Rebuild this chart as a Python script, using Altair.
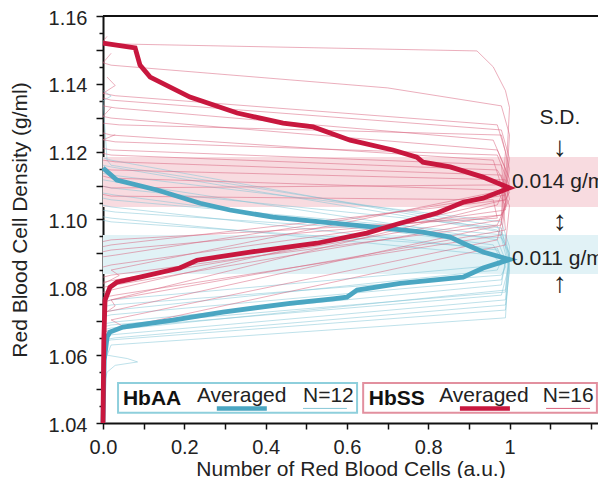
import altair as alt
import pandas as pd

X_MAX = 1.2177
FONT = "Liberation Sans"

# Averaged profiles (x = normalised cell count, y = density)
hbss_x = [0, 0.079, 0.091, 0.116, 0.214, 0.330, 0.443, 0.517, 0.608, 0.713, 0.772, 0.787, 0.854, 0.935, 1.0,
          0.935, 0.886, 0.822, 0.731, 0.649, 0.526, 0.362, 0.231, 0.189, 0.091, 0.034, 0.017, 0.005, 0.002, 0.0]
hbss_y = [1.1520, 1.1506, 1.1455, 1.1420, 1.1361, 1.1314, 1.1284, 1.1273, 1.1234, 1.1205, 1.1184, 1.1169, 1.1155, 1.1125, 1.1093,
          1.1063, 1.1051, 1.1019, 1.0989, 1.0960, 1.0930, 1.0904, 1.0880, 1.0857, 1.0830, 1.0815, 1.0800, 1.0762, 1.0644, 1.0400]
hbaa_x = [0, 0.034, 0.133, 0.239, 0.312, 0.418, 0.541, 0.689, 0.787, 0.854, 0.886, 0.935, 1.0,
          0.935, 0.886, 0.731, 0.625, 0.600, 0.566, 0.460, 0.295, 0.172, 0.049, 0.017, 0.010, 0.003, 0.0]
hbaa_y = [1.1152, 1.1116, 1.1087, 1.1048, 1.1028, 1.1007, 1.0992, 1.0975, 1.0963, 1.0948, 1.0930, 1.0904, 1.0882,
          1.0857, 1.0830, 1.0812, 1.0792, 1.0771, 1.0766, 1.0753, 1.0727, 1.0703, 1.0683, 1.0668, 1.0653, 1.0585, 1.0400]

# Individual samples, HbSS (N=16)
red_thin = [
    [[0.01, 1.1540], [0, 1.1525], [0.02, 1.1518], [0.92, 1.1497], [0.96, 1.1450], [0.99, 1.1380], [1.0, 1.1330], [0.99, 1.1100], [0.97, 1.1043], [0.02, 1.0763], [0, 1.0755]],
    [[0.02, 1.1490], [0, 1.1462], [0.02, 1.1455], [0.70, 1.1388], [0.98, 1.1335], [1.0, 1.1250], [0.99, 1.1058], [0.02, 1.0792], [0, 1.0785]],
    [[0.01, 1.1420], [0.03, 1.1395], [0, 1.1372], [0.03, 1.1365], [0.97, 1.1279], [0.99, 1.1200], [0.98, 1.1013], [0.03, 1.0822], [0, 1.0815]],
    [[0, 1.1358], [0.02, 1.1352], [0.98, 1.1264], [1.0, 1.1180], [0.99, 1.1087], [0.02, 1.0851], [0.04, 1.0835], [0, 1.0810]],
    [[0, 1.1335], [0.03, 1.1329], [0.96, 1.1234], [0.99, 1.1150], [0.98, 1.0984], [0.03, 1.0733], [0, 1.0726]],
    [[0.02, 1.1330], [0, 1.1304], [0.02, 1.1299], [0.97, 1.1205], [1.0, 1.1120], [0.99, 1.1028], [0.02, 1.0866], [0, 1.0860]],
    [[0, 1.1284], [0.04, 1.1279], [0.98, 1.1249], [1.0, 1.1150], [0.99, 1.1072], [0.03, 1.0895], [0, 1.0890]],
    [[0, 1.1255], [0.02, 1.1249], [0.96, 1.1175], [0.98, 1.1100], [0.99, 1.0969], [0.02, 1.0763], [0.03, 1.0745], [0, 1.0720]],
    [[0.03, 1.1250], [0, 1.1235], [0.03, 1.1229], [0.97, 1.1190], [1.0, 1.1100], [0.98, 1.0999], [0.03, 1.0807], [0, 1.0800]],
    [[0, 1.1210], [0.02, 1.1205], [0.98, 1.1161], [0.99, 1.1050], [0.97, 1.0940], [0.02, 1.0704], [0.05, 1.0685], [0.01, 1.0660], [0, 1.0640]],
    [[0, 1.1195], [0.02, 1.1190], [0.97, 1.1146], [1.0, 1.1080], [0.99, 1.1058], [0.02, 1.0925], [0, 1.0920]],
    [[0, 1.1175], [0.03, 1.1170], [0.98, 1.1131], [0.99, 1.1050], [0.98, 1.0954], [0.03, 1.0777], [0, 1.0770]],
    [[0, 1.1150], [0.02, 1.1146], [0.99, 1.1117], [1.0, 1.1060], [0.98, 1.1013], [0.02, 1.0910], [0, 1.0905]],
    [[0, 1.1128], [0.02, 1.1122], [0.97, 1.1087], [0.99, 1.1040], [0.97, 1.0984], [0.02, 1.0836], [0, 1.0830]],
    [[0, 1.1098], [0.02, 1.1093], [0.98, 1.1102], [1.0, 1.1040], [0.99, 1.0925], [0.02, 1.0674], [0, 1.0668]],
    [[0, 1.1074], [0.02, 1.1069], [0.96, 1.1058], [0.97, 1.1004], [0.02, 1.0940], [0, 1.0935]],
]

# Individual samples, HbAA (N=12)
blue_thin = [
    [[0, 1.1182], [0.02, 1.1175], [0.97, 1.0969], [1.0, 1.0900], [0.99, 1.0763], [0.02, 1.0660], [0, 1.0655]],
    [[0, 1.1136], [0.02, 1.1131], [0.98, 1.0993], [1.0, 1.0920], [0.99, 1.0792], [0.02, 1.0674], [0, 1.0668]],
    [[0, 1.1117], [0.03, 1.1111], [0.97, 1.0940], [0.99, 1.0880], [0.98, 1.0807], [0.03, 1.0698], [0, 1.0692]],
    [[0, 1.1098], [0.02, 1.1093], [0.98, 1.0975], [1.0, 1.0860], [0.99, 1.0733], [0.02, 1.0645], [0, 1.0640]],
    [[0, 1.1078], [0.03, 1.1072], [0.96, 1.0925], [0.98, 1.0880], [0.97, 1.0851], [0.03, 1.0733], [0, 1.0727]],
    [[0, 1.1063], [0.02, 1.1058], [0.99, 1.0954], [1.0, 1.0870], [0.98, 1.0777], [0.02, 1.0680], [0, 1.0675]],
    [[0, 1.1042], [0.02, 1.1037], [0.97, 1.0910], [0.99, 1.0870], [0.98, 1.0822], [0.02, 1.0719], [0, 1.0713]],
    [[0, 1.1027], [0.03, 1.1022], [0.98, 1.0946], [1.0, 1.0850], [0.99, 1.0748], [0.03, 1.0651], [0, 1.0645]],
    [[0, 1.1008], [0.02, 1.1004], [0.96, 1.0895], [0.98, 1.0866], [0.02, 1.0763], [0, 1.0757]],
    [[0, 1.1380], [0.02, 1.1364], [0, 1.1350], [0.01, 1.1175], [0.02, 1.1160], [0.97, 1.0981], [1.0, 1.0890], [0.99, 1.0786], [0.02, 1.0689], [0, 1.0683]],
    [[0, 1.0998], [0.02, 1.0993], [0.97, 1.0916], [0.99, 1.0860], [0.98, 1.0836], [0.02, 1.0748], [0, 1.0742]],
    [[0, 1.1160], [0.02, 1.1155], [0.98, 1.0963], [1.0, 1.0900], [0.99, 1.0710], [0.02, 1.0630], [0.01, 1.0600], [0.06, 1.0590], [0.085, 1.0580], [0.03, 1.0570], [0.01, 1.0550], [0, 1.0500]],
]

# S.D. bands (density ranges)
band_group = ["HbSS", "HbAA"]
band_low = [1.1037, 1.0839]
band_high = [1.1184, 1.0954]
band_fill = ["#f8dbe0", "#e1f2f6"]

# Annotation texts on the right
sd_text = ["S.D."]
sd_y = [1.1299]
arrow_text = ["↓", "↕", "↑"]
arrow_y = [1.1212, 1.0993, 1.0811]
val_text = ["0.014 g/ml", "0.011 g/ml"]
val_y = [1.1111, 1.0884]

# Legend boxes
box_x = [0.037, 0.640]
box_x2 = [0.625, 1.215]
box_stroke = ["#8ecfdc", "#e2909f"]
leg_bold = ["HbAA", "HbSS"]
leg_bold_x = [0.049, 0.654]
leg_text = ["Averaged", "N=12", "Averaged", "N=16"]
leg_text_x = [0.231, 0.492, 0.827, 1.082]
leg_line_x = [0.280, 0.492, 0.878, 1.090]
leg_line_x2 = [0.403, 0.600, 1.001, 1.198]
leg_line_w = [4.5, 1.0, 4.5, 1.0]
leg_line_c = ["#4aa6c2", "#86c6d6", "#c8173e", "#d9607a"]

RED_THICK = "#c8173e"
BLUE_THICK = "#4aa6c2"
RED_THIN = "#d9627d"
BLUE_THIN = "#82c6d7"

# --- build tables ---
thin_rows = []
for grp, curves in (("HbAA", blue_thin), ("HbSS", red_thin)):
    for ci, pts in enumerate(curves):
        for k, (xv, yv) in enumerate(pts):
            thin_rows.append({"group": grp, "cid": f"{grp}{ci}", "k": k, "x": xv, "y": yv})
thin_df = pd.DataFrame(thin_rows)

avg_rows = []
for grp, xs, ys in (("HbAA", hbaa_x, hbaa_y), ("HbSS", hbss_x, hbss_y)):
    for k, (xv, yv) in enumerate(zip(xs, ys)):
        avg_rows.append({"group": grp, "k": k, "x": xv, "y": yv})
avg_df = pd.DataFrame(avg_rows)

band_df = pd.DataFrame({"group": band_group, "lo": band_low, "hi": band_high, "fill": band_fill,
                        "x0": [0.0, 0.0], "x1": [X_MAX, X_MAX]})
top_df = pd.DataFrame({"x0": [0.0], "x1": [X_MAX], "y": [1.16]})
sd_df = pd.DataFrame({"t": sd_text, "y": sd_y, "x": [1.124] * len(sd_text)})
arrow_df = pd.DataFrame({"t": arrow_text, "y": arrow_y, "x": [1.124] * len(arrow_text)})
val_df = pd.DataFrame({"t": val_text, "y": val_y, "x": [1.006] * len(val_text)})
box_df = pd.DataFrame({"x": box_x, "x2": box_x2, "y": [1.0518] * 2, "y2": [1.0430] * 2, "s": box_stroke})
bold_df = pd.DataFrame({"t": leg_bold, "x": leg_bold_x, "y": [1.0453] * 2})
text_df = pd.DataFrame({"t": leg_text, "x": leg_text_x, "y": [1.0463] * 4})
lline_df = pd.DataFrame({"x": leg_line_x, "x2": leg_line_x2, "y": [1.0443] * 4, "w": leg_line_w, "c": leg_line_c})

xscale = alt.Scale(domain=[0, X_MAX], nice=False, zero=False)
yscale = alt.Scale(domain=[1.04, 1.16], nice=False, zero=False)

x_ticks = [round(0.1 * i, 1) for i in range(13)]
y_ticks = [round(1.04 + 0.005 * i, 3) for i in range(25)]

x_axis = alt.Axis(
    values=x_ticks, title="Number of Red Blood Cells (a.u.)",
    labelExpr="datum.value == 1 ? '1' : ((round(datum.value*10) % 2 == 0 && datum.value < 0.9) ? format(datum.value, '.1f') : '')",
    tickSize=6, tickWidth=1.5, tickColor="#111", domainColor="#111", domainWidth=2,
    labelFontSize=20, titleFontSize=21, labelFont=FONT, titleFont=FONT, labelColor="#222", titleColor="#222",
    titleFontWeight="normal", labelPadding=8, titlePadding=1, grid=False, labelFlush=False,
)
y_axis = alt.Axis(
    values=y_ticks, title="Red Blood Cell Density (g/ml)",
    labelExpr="(round(datum.value*1000) % 20 == 0) ? format(datum.value, '.2f') : ''",
    tickSize={"condition": {"test": "round(datum.value*1000) % 10 == 0", "value": 7}, "value": 4},
    tickWidth=1.5, tickColor="#111", domainColor="#111", domainWidth=2,
    labelFontSize=20, titleFontSize=21, labelFont=FONT, titleFont=FONT, labelColor="#222", titleColor="#222",
    titleFontWeight="normal", labelPadding=9, titlePadding=18, labelOffset=2, grid=False, labelFlush=False,
)

def X(field):
    return alt.X(field, type="quantitative", scale=xscale, axis=x_axis)

def Y(field):
    return alt.Y(field, type="quantitative", scale=yscale, axis=y_axis)

bands = alt.Chart(band_df).mark_rect().encode(
    x=X("x0"), x2="x1", y=Y("lo"), y2="hi", fill=alt.Fill("fill:N", scale=None)
)

thin = alt.Chart(thin_df).mark_line(strokeWidth=0.8, opacity=0.65).encode(
    x=X("x"), y=Y("y"), detail="cid:N", order="k:Q",
    color=alt.Color("group:N", scale=alt.Scale(domain=["HbAA", "HbSS"], range=[BLUE_THIN, RED_THIN]), legend=None),
)

thick_aa = alt.Chart(avg_df[avg_df.group == "HbAA"]).mark_line(strokeWidth=4.8, color=BLUE_THICK).encode(
    x=X("x"), y=Y("y"), order="k:Q")
thick_ss = alt.Chart(avg_df[avg_df.group == "HbSS"]).mark_line(strokeWidth=4.8, color=RED_THICK).encode(
    x=X("x"), y=Y("y"), order="k:Q")

top_rule = alt.Chart(top_df).mark_rule(color="#111", strokeWidth=2).encode(
    x=X("x0"), x2="x1", y=Y("y"))

sd = alt.Chart(sd_df).mark_text(font=FONT, fontSize=21, color="#222", align="center", baseline="middle").encode(
    x=X("x"), y=Y("y"), text="t:N")
arrows = alt.Chart(arrow_df).mark_text(font=FONT, fontSize=28, color="#222", align="center", baseline="middle").encode(
    x=X("x"), y=Y("y"), text="t:N")
vals = alt.Chart(val_df).mark_text(font=FONT, fontSize=21, color="#222", align="left", baseline="middle").encode(
    x=X("x"), y=Y("y"), text="t:N")

boxes = alt.Chart(box_df).mark_rect(fill="white", strokeWidth=2).encode(
    x=X("x"), x2="x2", y=Y("y"), y2="y2", stroke=alt.Stroke("s:N", scale=None))
bold = alt.Chart(bold_df).mark_text(font=FONT, fontSize=21, fontWeight="bold", color="#111", align="left", baseline="alphabetic").encode(
    x=X("x"), y=Y("y"), text="t:N")
ltext = alt.Chart(text_df).mark_text(font=FONT, fontSize=21, color="#222", align="left", baseline="alphabetic").encode(
    x=X("x"), y=Y("y"), text="t:N")
llines = alt.Chart(lline_df).mark_rule().encode(
    x=X("x"), x2="x2", y=Y("y"),
    strokeWidth=alt.StrokeWidth("w:Q", scale=None), color=alt.Color("c:N", scale=None))

chart = alt.layer(
    bands, thin, thick_aa, thick_ss, top_rule, sd, arrows, vals, boxes, bold, ltext, llines
).properties(
    width=495, height=407,
    padding={"left": 95, "top": 8, "right": 0, "bottom": 55},
    autosize=alt.AutoSizeParams(type="none"),
).configure_view(stroke=None).configure(background="white")

chart.save("out.html", embed_options={"renderer": "svg", "actions": False})
